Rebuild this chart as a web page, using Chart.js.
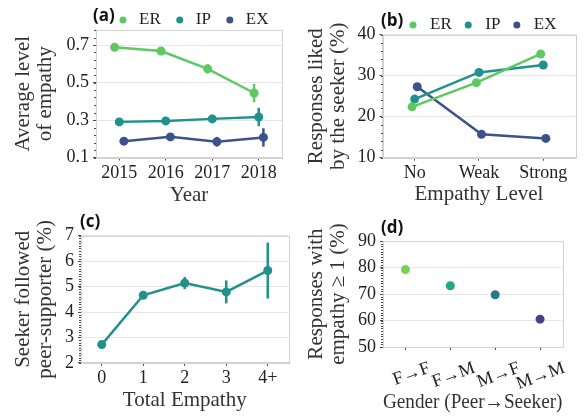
<!DOCTYPE html>
<html>
<head>
<meta charset="utf-8">
<script src="https://cdn.jsdelivr.net/npm/chart.js@4.4.1/dist/chart.umd.min.js"></script>
<style>
  html, body { margin: 0; padding: 0; background: #fff; }
  #wrap { position: relative; width: 586px; height: 416px; }
  #wrap canvas { position: absolute; }
</style>
</head>
<body>
<div id="wrap">
  <canvas id="chartA" width="293" height="208" style="left:0;top:0"></canvas>
  <canvas id="chartB" width="293" height="208" style="left:293px;top:0"></canvas>
  <canvas id="chartC" width="293" height="208" style="left:0;top:208px"></canvas>
  <canvas id="chartD" width="293" height="208" style="left:293px;top:208px"></canvas>
</div>
<script>
// --- data ---
const seriesNames = ['ER', 'IP', 'EX'];
const seriesColors = ['#5ec962', '#21918c', '#3b528b'];

// (a) average level of empathy per year
const years = ['2015', '2016', '2017', '2018'];
const erByYear = [0.688, 0.668, 0.573, 0.444];
const ipByYear = [0.290, 0.295, 0.306, 0.316];
const exByYear = [0.187, 0.210, 0.184, 0.207];
const erByYearErr = [0.006, 0.007, 0.024, 0.049];
const ipByYearErr = [0.006, 0.008, 0.022, 0.049];
const exByYearErr = [0.008, 0.012, 0.026, 0.049];
const yTicksA = [0.1, 0.3, 0.5, 0.7];

// (b) responses liked by the seeker
const levels = ['No', 'Weak', 'Strong'];
const erLiked = [22.4, 28.3, 35.3];
const ipLiked = [24.3, 30.8, 32.6];
const exLiked = [27.3, 15.7, 14.7];
const yTicksB = [10, 20, 30, 40];

// (c) seeker followed peer-supporter
const totalEmpathy = ['0', '1', '2', '3', '4+'];
const followed = [2.72, 4.66, 5.14, 4.79, 5.63];
const followedErr = [0.1, 0.1, 0.24, 0.45, 1.1];
const yTicksC = [2, 3, 4, 5, 6, 7];

// (d) responses with empathy >= 1, by gender pair
const genderPairs = ['F\u2192F', 'F\u2192M', 'M\u2192F', 'M\u2192M'];
const genderPct = [79.2, 73.1, 69.7, 60.5];
const genderColors = ['#7ad151', '#22a884', '#2a788e', '#414487'];
const yTicksD = [50, 60, 70, 80, 90];

// --- styles ---
Chart.defaults.font.family = '"Liberation Serif", serif';
const tickFont = { size: 18, lineHeight: 1.2 };
const titleFont = { size: 21, lineHeight: 1.05 };
const frameColor = '#d2d2d2';
const gridColor = '#e6e6e6';
const tickMarkColor = '#4a4a4a';

// --- plugins ---
const frame = {
  id: 'frame',
  beforeDatasetsDraw(chart) {
    const { ctx, chartArea: a } = chart;
    ctx.save();
    ctx.strokeStyle = frameColor;
    ctx.lineWidth = 1;
    ctx.strokeRect(Math.round(a.left) + 0.5, Math.round(a.top) + 0.5,
      Math.round(a.right - a.left), Math.round(a.bottom - a.top));
    ctx.restore();
  }
};

const minorTicks = {
  id: 'minorTicks',
  afterDraw(chart, args, opts) {
    if (!opts.step) return;
    const y = chart.scales.y, ctx = chart.ctx, x0 = Math.round(chart.chartArea.left);
    const n = Math.round((y.max - y.min) / opts.step);
    ctx.save();
    ctx.strokeStyle = tickMarkColor;
    ctx.lineWidth = 1;
    ctx.beginPath();
    for (let i = 0; i <= n; i++) {
      const py = Math.round(y.getPixelForValue(y.min + i * opts.step)) + 0.5;
      ctx.moveTo(x0 - 2, py);
      ctx.lineTo(x0, py);
    }
    ctx.stroke();
    ctx.restore();
  }
};

const errorBars = {
  id: 'errorBars',
  afterDatasetsDraw(chart) {
    const ctx = chart.ctx, y = chart.scales.y;
    chart.data.datasets.forEach((ds, i) => {
      if (!ds.errors) return;
      const meta = chart.getDatasetMeta(i);
      ctx.save();
      ctx.strokeStyle = ds.borderColor;
      ctx.lineWidth = 2.5;
      meta.data.forEach((pt, j) => {
        const v = ds.data[j].y, e = ds.errors[j];
        ctx.beginPath();
        ctx.moveTo(pt.x, y.getPixelForValue(v - e));
        ctx.lineTo(pt.x, y.getPixelForValue(v + e));
        ctx.stroke();
      });
      ctx.restore();
    });
  }
};

// panel letter + small legend above the plot
const header = {
  id: 'header',
  afterDraw(chart, args, o) {
    const ctx = chart.ctx;
    ctx.save();
    ctx.textBaseline = 'middle';
    ctx.textAlign = 'left';
    ctx.fillStyle = '#111';
    ctx.font = 'bold 17px "Open Sans"';
    ctx.fillText(o.label, o.x, o.y);
    if (o.legendX) {
      let x = o.legendX;
      ctx.font = '17px "Liberation Serif"';
      chart.data.datasets.forEach(ds => {
        ctx.fillStyle = ds.borderColor;
        ctx.beginPath();
        ctx.arc(x, o.legendY, 3.5, 0, Math.PI * 2);
        ctx.fill();
        ctx.fillStyle = '#222';
        ctx.fillText(ds.label, x + o.textGap, o.legendY);
        x += o.textGap + ctx.measureText(ds.label).width + o.itemGap;
      });
    }
    ctx.restore();
  }
};

// --- helpers ---
function lineSeries(name, color, values, dodge, errors) {
  return {
    label: name,
    data: values.map((v, i) => ({ x: i + dodge, y: v })),
    errors: errors,
    borderColor: color,
    backgroundColor: color,
    borderWidth: 2.5,
    pointRadius: 4.5,
    pointBorderWidth: 0,
    tension: 0
  };
}

function panelOptions(p) {
  return {
    responsive: false,
    animation: false,
    events: [],
    layout: { padding: { top: p.top, right: p.right, left: 0, bottom: 0 } },
    plugins: {
      legend: { display: false },
      tooltip: { enabled: false },
      header: p.header,
      minorTicks: { step: p.minor }
    },
    scales: {
      x: {
        type: 'linear',
        min: -0.5,
        max: p.labels.length - 0.5,
        afterBuildTicks: s => { s.ticks = p.labels.map((_, i) => ({ value: i })); },
        afterFit: s => { s.height = p.xHeight; },
        ticks: {
          callback: v => p.labels[v],
          font: tickFont,
          color: '#222',
          padding: p.xTickPad || 2,
          autoSkip: false,
          minRotation: p.rot || 0,
          maxRotation: p.rot || 0,
          labelOffset: p.labelOffset || 0
        },
        grid: { drawOnChartArea: false, tickLength: 3, tickColor: tickMarkColor },
        border: { color: frameColor },
        title: { display: true, text: p.xTitle, font: titleFont, color: '#333', padding: { top: 0, bottom: p.xTitlePad } }
      },
      y: {
        min: p.yMin,
        max: p.yMax,
        afterBuildTicks: s => { s.ticks = p.yTicks.map(v => ({ value: v })); },
        afterFit: s => { s.width = p.left; },
        ticks: { font: tickFont, color: '#222', padding: 4 },
        grid: { color: gridColor, tickLength: 3, tickColor: tickMarkColor },
        border: { color: frameColor },
        title: { display: true, text: p.yTitle, font: titleFont, color: '#333', padding: { top: 12.5, bottom: 0 } }
      }
    }
  };
}

const plugins = [frame, minorTicks, errorBars, header];

// (a)
new Chart(document.getElementById('chartA'), {
  type: 'line',
  data: {
    datasets: [
      lineSeries(seriesNames[0], seriesColors[0], erByYear, -0.1, erByYearErr),
      lineSeries(seriesNames[1], seriesColors[1], ipByYear, 0, ipByYearErr),
      lineSeries(seriesNames[2], seriesColors[2], exByYear, 0.1, exByYearErr)
    ]
  },
  options: panelOptions({
    labels: years, top: 30, right: 11, left: 96, xHeight: 50.5,
    yMin: 0.1, yMax: 0.78, yTicks: yTicksA, minor: 0.04,
    xTitle: 'Year', xTitlePad: 1,
    yTitle: ['Average level', 'of empathy'],
    header: { label: '(a)', x: 93, y: 16, legendX: 123, legendY: 20, textGap: 16, itemGap: 19 }
  }),
  plugins: plugins
});

// (b)
new Chart(document.getElementById('chartB'), {
  type: 'line',
  data: {
    datasets: [
      lineSeries(seriesNames[0], seriesColors[0], erLiked, -0.04),
      lineSeries(seriesNames[1], seriesColors[1], ipLiked, 0),
      lineSeries(seriesNames[2], seriesColors[2], exLiked, 0.04)
    ]
  },
  options: panelOptions({
    labels: levels, top: 34.7, right: 10.6, left: 89.5, xHeight: 50.3,
    yMin: 10, yMax: 40, yTicks: yTicksB, minor: 2,
    xTitle: 'Empathy Level', xTitlePad: 2,
    yTitle: ['Responses liked', 'by the seeker (%)'],
    header: { label: '(b)', x: 88, y: 21.5, legendX: 120, legendY: 25, textGap: 17, itemGap: 16.5 }
  }),
  plugins: plugins
});

// (c)
new Chart(document.getElementById('chartC'), {
  type: 'line',
  data: {
    datasets: [lineSeries('Followed', seriesColors[1], followed, 0, followedErr)]
  },
  options: panelOptions({
    labels: totalEmpathy, top: 27.7, right: 3.5, left: 81, xHeight: 53.1,
    yMin: 2, yMax: 7, yTicks: yTicksC, minor: 0.1,
    xTitle: 'Total Empathy', xTitlePad: 4.5,
    yTitle: ['Seeker followed', 'peer-supporter (%)'],
    header: { label: '(c)', x: 80, y: 14 }
  }),
  plugins: plugins
});

// (d)
new Chart(document.getElementById('chartD'), {
  type: 'scatter',
  data: {
    datasets: [{
      label: 'Gender',
      data: genderPct.map((v, i) => ({ x: i, y: v })),
      pointBackgroundColor: genderColors,
      pointRadius: 4.5,
      pointBorderWidth: 0
    }]
  },
  options: panelOptions({
    labels: genderPairs, top: 33, right: 23.5, left: 90, xHeight: 69,
    yMin: 50, yMax: 90, yTicks: yTicksD, minor: 1,
    xTitle: 'Gender (Peer\u2192Seeker)', xTitlePad: 2.3,
    rot: 20, labelOffset: 24, xTickPad: 7.5,
    yTitle: ['Responses with', 'empathy \u2265 1 (%)'],
    header: { label: '(d)', x: 88, y: 20 }
  }),
  plugins: plugins
});
</script>
</body>
</html>
